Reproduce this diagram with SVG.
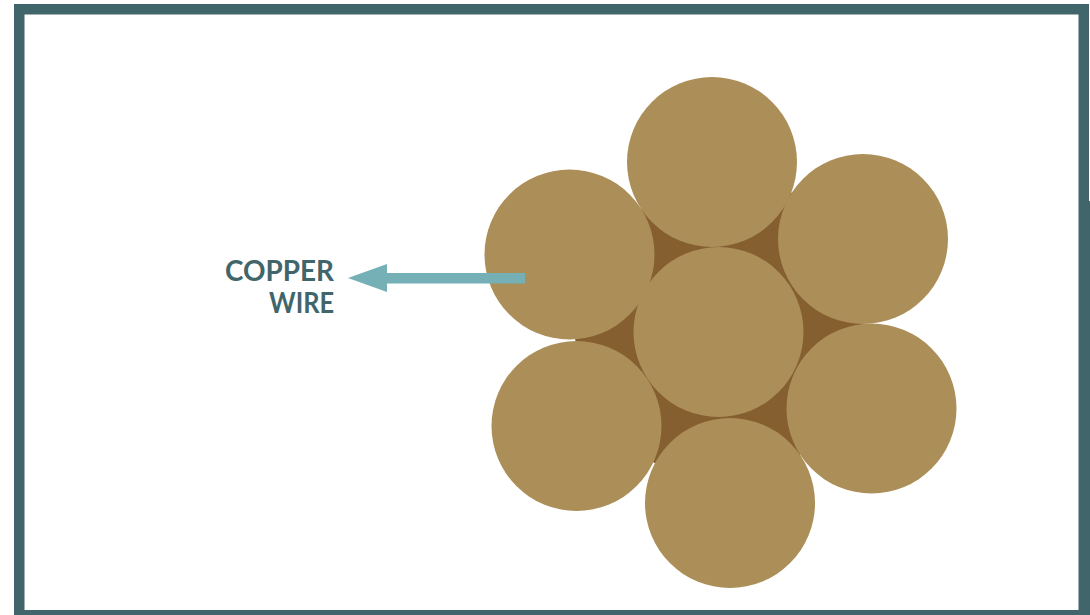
<svg xmlns="http://www.w3.org/2000/svg" width="1090" height="615" viewBox="0 0 1090 615">
<style>
.wire{fill:#ac8f58}
.label{font-family:"Lato","Open Sans",sans-serif;font-size:29px;font-weight:700;fill:#40656a;text-anchor:end}
</style>
<rect width="1090" height="615" fill="#fff"/>
<path id="frame" fill="#40656a" fill-rule="evenodd" d="M14 4H1089V201H1090V615H14ZM24.500 14.500V610H1078.500V14.500Z"/>
<g id="core"><polygon points="575,340 642,208 790,190 863,324 800,455 654,463" fill="#855f2f"/></g>
<g id="wires">
<circle id="wire-top" class="wire" cx="712" cy="162" r="85"/>
<circle id="wire-upper-right" class="wire" cx="863" cy="239" r="85"/>
<circle id="wire-upper-left" class="wire" cx="569.500" cy="254.500" r="85"/>
<circle id="wire-center" class="wire" cx="718.500" cy="332" r="85"/>
<circle id="wire-lower-right" class="wire" cx="871.500" cy="408.500" r="85"/>
<circle id="wire-lower-left" class="wire" cx="576.500" cy="426" r="85"/>
<circle id="wire-bottom" class="wire" cx="730" cy="503" r="85"/>
</g>
<g id="connectors"><polygon points="525,273 387,273 387,264 348,278 387,292 387,283.500 525,283.500" fill="#75b0b6"/></g>
<g id="label"><text class="label" x="334" y="281" textLength="109" lengthAdjust="spacingAndGlyphs">COPPER</text><text class="label" x="334" y="312.500" textLength="65" lengthAdjust="spacingAndGlyphs">WIRE</text></g>
</svg>
